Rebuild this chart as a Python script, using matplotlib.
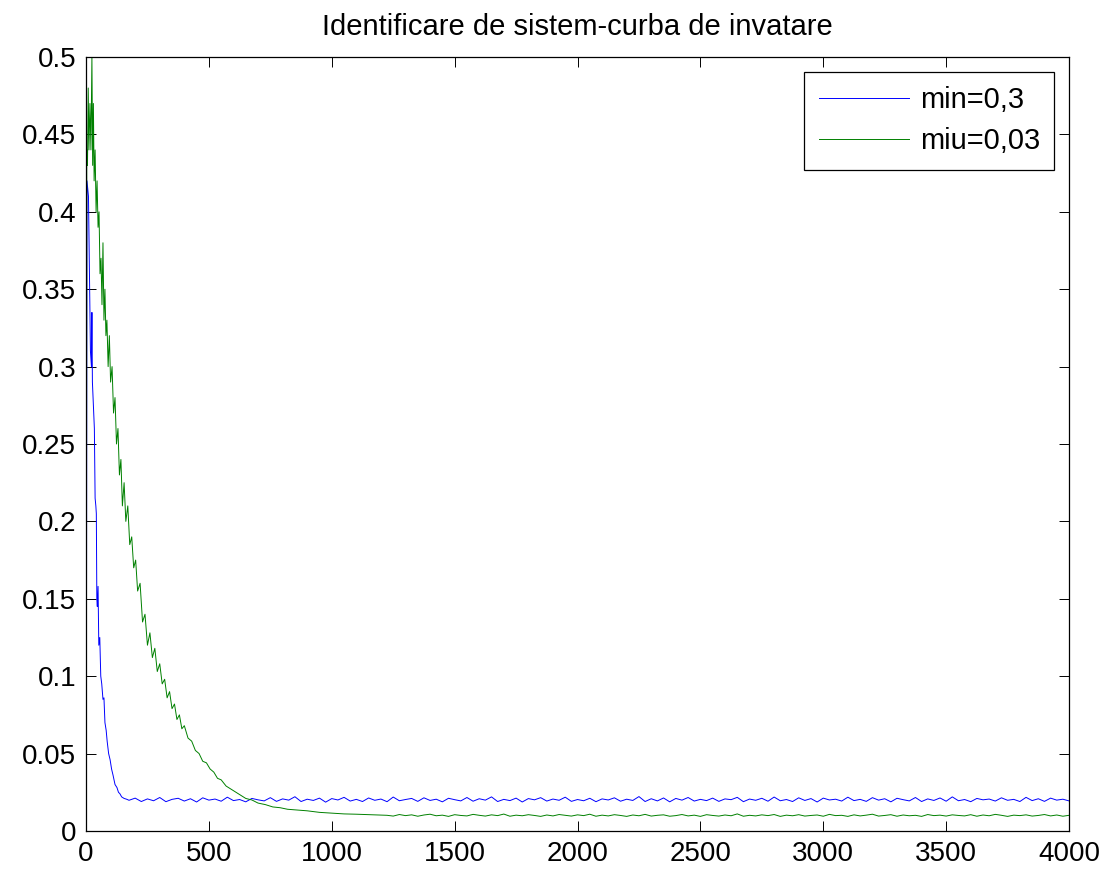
import numpy as np
import matplotlib.pyplot as plt
from matplotlib.ticker import MultipleLocator, FuncFormatter

plt.rcParams['font.family'] = ['Liberation Sans', 'DejaVu Sans']

TITLE = "Identificare de sistem-curba de invatare"
LABEL_BLUE = "min=0,3"
LABEL_GREEN = "miu=0,03"

# blue curve (mu = 0.3): fast transient
blue_x_early = [1, 4, 10, 14, 18, 22, 24, 26, 30, 34,
                37, 40, 42, 44, 46, 49, 52, 56, 60, 64,
                69, 73, 77, 82, 86, 92, 98, 104, 110, 118,
                126, 132, 138, 145, 155, 165]
blue_y_early = [0.012, 0.42, 0.41, 0.36, 0.31, 0.30, 0.335, 0.29, 0.275, 0.26,
                0.215, 0.21, 0.205, 0.15, 0.145, 0.158, 0.12, 0.125, 0.10, 0.095,
                0.085, 0.086, 0.07, 0.065, 0.058, 0.05, 0.046, 0.040, 0.036, 0.03,
                0.028, 0.025, 0.024, 0.022, 0.021, 0.0205]
# steady-state part, one reading every 25 samples from 175 to 4000
blue_y_flat = [
    0.0198, 0.0212, 0.0190, 0.0207, 0.0195, 0.0216, 0.0189, 0.0204, 0.0211, 0.0193, 0.0208,
    0.0187, 0.0214, 0.0199, 0.0206, 0.0192, 0.0218, 0.0196, 0.0203, 0.0188, 0.0210, 0.0201,
    0.0194, 0.0215, 0.0191, 0.0207, 0.0199, 0.0221, 0.0190, 0.0205, 0.0197, 0.0212, 0.0186,
    0.0209, 0.0200, 0.0217, 0.0193, 0.0204, 0.0190, 0.0213, 0.0198, 0.0206, 0.0189, 0.0219,
    0.0195, 0.0203, 0.0210, 0.0191, 0.0214, 0.0197, 0.0205, 0.0188, 0.0211, 0.0202, 0.0194,
    0.0216, 0.0192, 0.0208, 0.0199, 0.0220, 0.0190, 0.0204, 0.0196, 0.0212, 0.0187, 0.0209,
    0.0201, 0.0215, 0.0193, 0.0206, 0.0198, 0.0218, 0.0191, 0.0203, 0.0195, 0.0211, 0.0189,
    0.0207, 0.0200, 0.0214, 0.0192, 0.0205, 0.0197, 0.0222, 0.0190, 0.0208, 0.0194, 0.0213,
    0.0188, 0.0210, 0.0199, 0.0216, 0.0193, 0.0204, 0.0196, 0.0212, 0.0191, 0.0207, 0.0202,
    0.0217, 0.0189, 0.0206, 0.0198, 0.0211, 0.0192, 0.0219, 0.0195, 0.0203, 0.0190, 0.0214,
    0.0197, 0.0209, 0.0187, 0.0212, 0.0200, 0.0205, 0.0193, 0.0218, 0.0196, 0.0204, 0.0191,
    0.0215, 0.0199, 0.0208, 0.0188, 0.0211, 0.0202, 0.0194, 0.0216, 0.0190, 0.0207, 0.0197,
    0.0213, 0.0192, 0.0220, 0.0195, 0.0203, 0.0189, 0.0210, 0.0201, 0.0206, 0.0193, 0.0214,
    0.0198, 0.0204, 0.0190, 0.0217, 0.0196, 0.0208, 0.0191, 0.0212, 0.0199, 0.0205, 0.0194,
]
BLUE_FLAT_START, FLAT_STEP = 175, 25

# green curve (mu = 0.03): slow decay
green_x_early = [1, 3, 6, 9, 12, 16, 20, 24, 27, 30,
                 33, 37, 41, 45, 49, 53, 57, 61, 65, 69,
                 73, 77, 81, 85, 90, 95, 100, 106, 112, 118,
                 124, 130, 136, 142, 148, 155, 162, 170, 178, 186,
                 194, 202, 210, 220, 230, 240, 250, 260, 270, 280,
                 290, 300, 310, 320, 330, 340, 350, 360, 370, 380,
                 390, 400, 415, 430, 445, 460, 475, 490, 505, 520,
                 535, 550, 570, 590, 610, 630, 650, 675, 700, 730,
                 760, 790, 820, 860, 900, 950, 1000, 1050, 1100, 1150,
                 1200]
green_y_early = [0.012, 0.44, 0.43, 0.48, 0.44, 0.47, 0.44, 0.50, 0.43, 0.47,
                 0.42, 0.44, 0.40, 0.42, 0.39, 0.40, 0.36, 0.37, 0.34, 0.38,
                 0.33, 0.35, 0.32, 0.33, 0.30, 0.32, 0.29, 0.30, 0.27, 0.28,
                 0.25, 0.26, 0.23, 0.24, 0.21, 0.225, 0.20, 0.21, 0.185, 0.19,
                 0.17, 0.175, 0.155, 0.16, 0.135, 0.14, 0.12, 0.128, 0.112, 0.118,
                 0.103, 0.108, 0.095, 0.098, 0.086, 0.09, 0.079, 0.082, 0.072, 0.075,
                 0.066, 0.068, 0.060, 0.058, 0.052, 0.05, 0.045, 0.044, 0.040, 0.038,
                 0.034, 0.033, 0.029, 0.027, 0.025, 0.023, 0.021, 0.020, 0.018, 0.017,
                 0.0155, 0.015, 0.014, 0.0135, 0.013, 0.012, 0.0115, 0.011, 0.0108, 0.0105,
                 0.0102]
green_y_flat = [
    0.0101, 0.0096, 0.0106, 0.0099, 0.0104, 0.0095, 0.0103, 0.0108,
    0.0098, 0.0102, 0.0094, 0.0105, 0.0100, 0.0097, 0.0107, 0.0101,
    0.0096, 0.0104, 0.0099, 0.0109, 0.0095, 0.0102, 0.0098, 0.0105,
    0.0100, 0.0094, 0.0103, 0.0097, 0.0106, 0.0101, 0.0096, 0.0104,
    0.0099, 0.0108, 0.0095, 0.0102, 0.0097, 0.0105, 0.0100, 0.0094,
    0.0103, 0.0098, 0.0107, 0.0096, 0.0101, 0.0104, 0.0095, 0.0099,
    0.0106, 0.0097, 0.0102, 0.0094, 0.0105, 0.0100, 0.0096, 0.0103,
    0.0098, 0.0110, 0.0095, 0.0101, 0.0097, 0.0104, 0.0099, 0.0106,
    0.0094, 0.0102, 0.0098, 0.0105, 0.0096, 0.0100, 0.0103, 0.0095,
    0.0107, 0.0099, 0.0101, 0.0094, 0.0104, 0.0097, 0.0102, 0.0108,
    0.0096, 0.0100, 0.0105, 0.0095, 0.0103, 0.0098, 0.0101, 0.0094,
    0.0106, 0.0099, 0.0102, 0.0096, 0.0104, 0.0100, 0.0097, 0.0105,
    0.0095, 0.0103, 0.0098, 0.0107, 0.0101, 0.0094, 0.0102, 0.0099,
    0.0104, 0.0096, 0.0100, 0.0106, 0.0097, 0.0103, 0.0095, 0.0101,
]
GREEN_FLAT_START = 1225


def build(x_early, y_early, flat_start, y_flat):
    x_flat = flat_start + FLAT_STEP * np.arange(len(y_flat))
    return (np.concatenate([x_early, x_flat]),
            np.concatenate([y_early, y_flat]))


bx, by = build(blue_x_early, blue_y_early, BLUE_FLAT_START, blue_y_flat)
gx, gy = build(green_x_early, green_y_early, GREEN_FLAT_START, green_y_flat)

fig = plt.figure(figsize=(11.07, 8.71), dpi=100)
ax = fig.add_axes([0.0777, 0.046, 0.888, 0.8885])

ax.plot(bx, by, color="#0000ff", linewidth=0.7, label=LABEL_BLUE)
ax.plot(gx, gy, color="#008000", linewidth=0.7, label=LABEL_GREEN)

ax.set_xlim(0, 4000)
ax.set_ylim(0, 0.5)
ax.xaxis.set_major_locator(MultipleLocator(500))
ax.yaxis.set_major_locator(MultipleLocator(0.05))
ax.yaxis.set_major_formatter(FuncFormatter(lambda v, _: f"{v:g}"))
ax.tick_params(direction="in", length=7, width=0.7, top=True, right=True,
               labelsize=20, pad=7)
for s in ax.spines.values():
    s.set_linewidth(0.9)

ax.set_title(TITLE, fontsize=21, pad=16)

leg = ax.legend(loc="upper right", fontsize=21, fancybox=False,
                edgecolor="black", framealpha=1, handlelength=3.1,
                handletextpad=0.35, borderaxespad=0.5, borderpad=0.5,
                labelspacing=0.45)
leg.get_frame().set_linewidth(0.9)

fig.savefig("out.png", dpi=100)
